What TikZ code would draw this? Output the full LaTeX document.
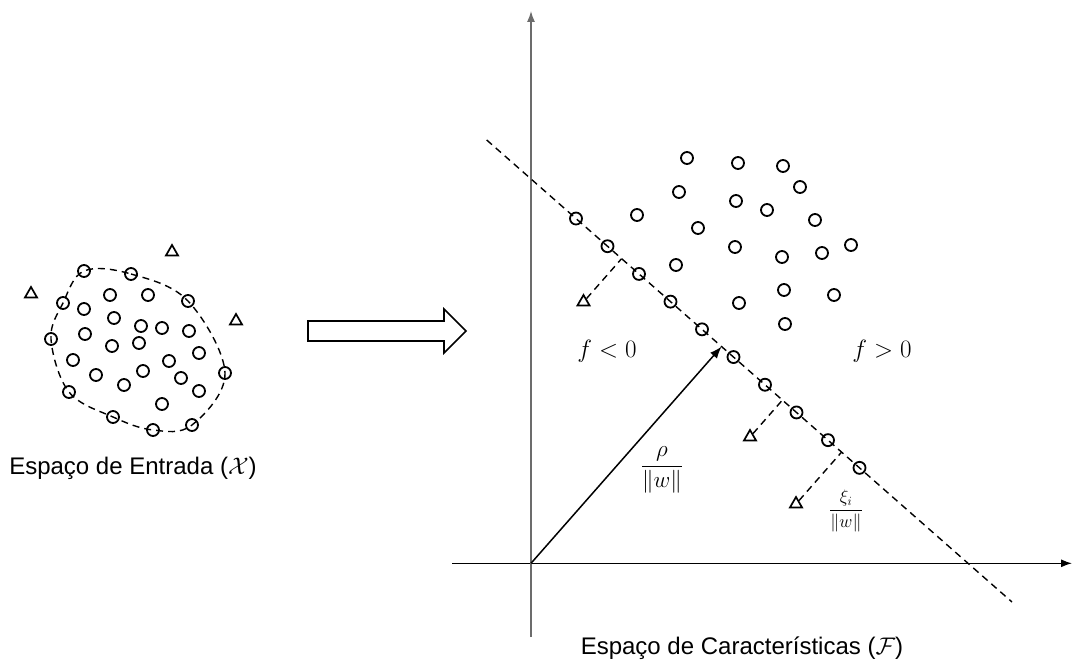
\RequirePackage{fix-cm}
\documentclass[tikz,border=0pt]{standalone}
\usepackage{amsmath}
\usepackage{fontspec}
\setmainfont{Liberation Sans}
\usetikzlibrary{calc,shapes.geometric,arrows.meta}
\begin{document}
\begin{tikzpicture}[x=1pt,y=-1pt,
  pt/.style={circle,draw,line width=1.8pt,minimum size=12pt,inner sep=0pt},
  tri/.style={regular polygon,regular polygon sides=3,draw,line width=1.7pt,minimum size=14pt,inner sep=0pt},
  dsh/.style={line width=1.4pt,dash pattern=on 7pt off 5pt},
  lbl/.style={font=\fontsize{24}{28}\selectfont,inner sep=0pt},
  mlbl/.style={font=\fontsize{25}{29}\selectfont,inner sep=0pt},
  flbl/.style={font=\fontsize{23}{27}\selectfont,inner sep=0pt},
  xlbl/.style={font=\fontsize{18}{22}\selectfont,inner sep=0pt}]
\useasboundingbox (0,0) rectangle (1074,666);
% ---------- left cluster ----------
\foreach \x/\y [count=\i] in {84/271,131/274,188/301,225/373,192/425,153/430,113/417,69/392,51/339,63/303}
  \node[pt] (b\i) at (\x,\y) {};
\draw[dsh] plot[smooth cycle,tension=0.6] coordinates {(84,271) (131,274) (188,301) (225,373) (192,425) (153,430) (113,417) (69,392) (51,339) (63,303)};
\foreach \x/\y [count=\i] in {110/295,148/295,84/309,114/318,141/326,162/328,189/331,85/334,112/346,139/343,73/360,199/353,169/361,143/371,96/375,181/378,124/385,199/391,162/404}
  \node[pt] (c\i) at (\x,\y) {};
\node[tri] (t1) at (172,252) {};
\node[tri] (t2) at (31,294) {};
\node[tri] (t3) at (236,321) {};
\node[lbl] (lab1) at (133,468) {Espaço de Entrada ($\mathcal{X}$)};
% ---------- big arrow ----------
\draw[line width=1.6pt,line join=miter] (308,321) -- (444,321) -- (444,309) -- (466,331) -- (444,353) -- (444,341) -- (308,341) -- cycle;
% ---------- axes ----------
\coordinate (O) at (531,563.3);
\coordinate (xl) at (452,563.3);
\coordinate (xr) at (1072,563.3);
\coordinate (yb) at (531,637);
\coordinate (yt) at (531,11);
\draw[line width=1.3pt,-{Latex[length=11pt,width=8pt]}] (xl) -- (xr);
\draw[line width=1.3pt,gray!85!black,-{Latex[length=11pt,width=8pt]}] (yb) -- (yt);
% ---------- separating line ----------
\coordinate (A) at (486.7,140);
\coordinate (B) at (1012,602);
\draw[dsh] (A) -- (B);
\foreach \k in {0,...,9}{
  \pgfmathsetmacro{\xx}{576+31.5*\k}
  \pgfmathsetmacro{\yy}{140+0.8794*(\xx-486.7)}
  \node[pt] (s\k) at (\xx,\yy) {};
}
% ---------- right cluster ----------
\foreach \x/\y [count=\i] in {687/158,738/163,783/166,679/192,800/187,736/201,767/210,637/215,815/220,698/228,735/247,851/245,822/253,782/257,676/265,784/290,834/295,739/303,785/324}
  \node[pt] (r\i) at (\x,\y) {};
% ---------- slack triangles ----------
\node[tri] (u1) at (583.5,302) {};
\node[tri] (u2) at (750,437) {};
\node[tri] (u3) at (796,504) {};
\coordinate (f1) at ($(A)!(u1)!(B)$);
\coordinate (f2) at ($(A)!(u2)!(B)$);
\coordinate (f3) at ($(A)!(u3)!(B)$);
\draw[dsh] (u1) -- (f1);
\draw[dsh] (u2) -- (f2);
\draw[dsh] (u3) -- (f3);
% ---------- rho vector ----------
\coordinate (F) at ($(A)!(O)!(B)$);
\draw[line width=1.5pt,-{Latex[length=12pt,width=9pt]}] (O) -- (F);
% ---------- labels ----------
\node[mlbl] (fneg) at (607,351) {$f<0$};
\node[mlbl] (fpos) at (882,351) {$f>0$};
\node[flbl] (rho) at (662,470) {$\dfrac{\rho}{\|w\|}$};
\node[xlbl] (xi) at (846,511) {$\dfrac{\xi_i}{\|w\|}$};
\node[lbl] (lab2) at (742,648) {Espaço de Características ($\mathcal{F}$)};
\end{tikzpicture}
\end{document}
